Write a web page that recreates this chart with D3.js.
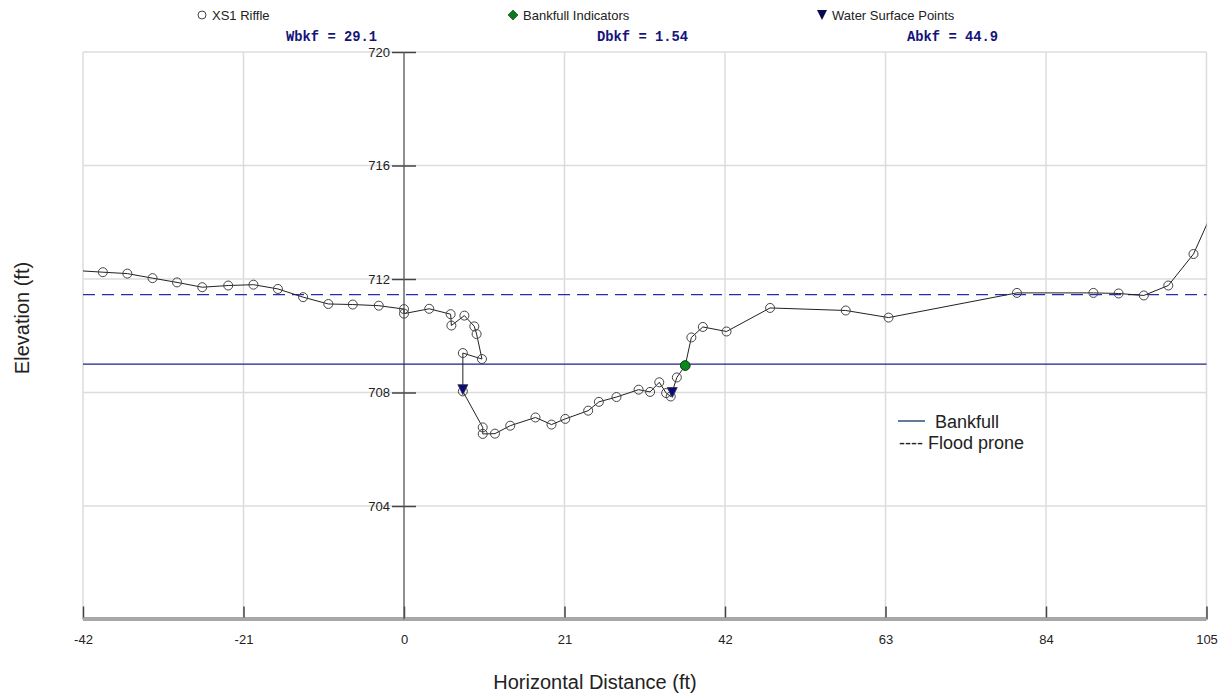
<!DOCTYPE html>
<html>
<head>
<meta charset="utf-8">
<script src="https://cdn.jsdelivr.net/npm/d3@7"></script>
<style>
    body { margin: 0; background: #fff; }
    svg { display: block; }
</style>
</head>
<body>
<svg id="xs"></svg>
<script>
// cross section survey (station ft, elevation ft)
let station = [-43.0, -39.4, -36.2, -32.9, -29.7, -26.4, -23.0, -19.7, -16.5, -13.2, -9.9, -6.7, -3.3,
    0.0, 0.0, 3.3, 6.1, 6.2, 7.9, 9.2, 9.5, 10.2, 7.7, 7.7, 10.3, 10.3, 11.9, 13.9, 17.2, 19.3, 21.1,
    24.1, 25.5, 27.8, 30.7, 32.2, 33.4, 34.3, 34.9, 35.7, 36.8, 37.6, 39.1, 42.2, 47.9, 57.8, 63.4,
    80.2, 90.2, 93.5, 96.8, 100.0, 103.3, 106.5];
let elevation = [712.30, 712.24, 712.19, 712.03, 711.88, 711.71, 711.77, 711.80, 711.65, 711.36, 711.12, 711.10, 711.06,
    710.94, 710.78, 710.95, 710.76, 710.36, 710.71, 710.33, 710.06, 709.18, 709.39, 708.04, 706.77, 706.54, 706.55, 706.83, 707.12, 706.87, 707.07,
    707.36, 707.67, 707.84, 708.10, 708.02, 708.36, 707.98, 707.86, 708.53, 708.95, 709.94, 710.31, 710.15, 710.98, 710.89, 710.64,
    711.51, 711.51, 711.49, 711.42, 711.77, 712.88, 714.8];

let bankfullPts = [[36.8, 708.95]];
let waterPts = [[7.7, 708.10], [35.1, 708.0]];

let bankfullElev = 709.0;
let floodElev = 711.45;

let xTicks = [-42, -21, 0, 21, 42, 63, 84, 105];
let yTicks = [704, 708, 712, 716, 720];

let legendItems = ["XS1 Riffle", "Bankfull Indicators", "Water Surface Points"];
let statLabels = ["Wbkf = 29.1", "Dbkf = 1.54", "Abkf = 44.9"];
let keyLabels = ["Bankfull", "---- Flood prone"];

let svg = d3.select("#xs").attr("width", 1226).attr("height", 700);

let pLeft = 83, pRight = 1206.5, pTop = 52, pBottom = 619.5;

let x = d3.scaleLinear().domain([-42, 105]).range([pLeft, pRight]);
let y = d3.scaleLinear().domain([700, 720]).range([pBottom, pTop]);

let font = "'Liberation Sans', Arial, sans-serif";

svg.append("defs").append("clipPath").attr("id", "plot")
    .append("rect").attr("x", pLeft).attr("y", pTop)
    .attr("width", pRight - pLeft).attr("height", pBottom - pTop);

// grid
let grid = svg.append("g");
grid.selectAll(".vg").data(xTicks).enter().append("line")
    .attr("x1", d => x(d)).attr("x2", d => x(d))
    .attr("y1", pTop).attr("y2", pBottom)
    .attr("stroke", "#dcdcdc").attr("stroke-width", 1.5);
grid.selectAll(".hg").data(yTicks).enter().append("line")
    .attr("x1", pLeft).attr("x2", pRight)
    .attr("y1", d => y(d)).attr("y2", d => y(d))
    .attr("stroke", "#dcdcdc").attr("stroke-width", 1.5);

// x axis at the bottom (plain hyphen for negatives)
let xAxis = svg.append("g")
    .attr("transform", "translate(0," + pBottom + ")")
    .call(d3.axisBottom(x).tickValues(xTicks).tickFormat(d => String(d)).tickSize(0).tickPadding(15));
xAxis.select(".domain").remove();
xAxis.selectAll("text").attr("font-family", font).attr("font-size", 13).attr("fill", "#222");
xAxis.selectAll(".tick").append("line")
    .attr("y1", -13).attr("y2", 0).attr("stroke", "#444").attr("stroke-width", 1.5);
svg.append("line").attr("x1", pLeft).attr("x2", pRight)
    .attr("y1", pBottom - 0.5).attr("y2", pBottom - 0.5)
    .attr("stroke", "#8a8a8a").attr("stroke-width", 3.5);
svg.append("line").attr("x1", pLeft).attr("x2", pRight)
    .attr("y1", pBottom - 0.5).attr("y2", pBottom - 0.5)
    .attr("stroke", "#c8c8c8").attr("stroke-width", 1);

// y axis through zero
let yAxis = svg.append("g")
    .attr("transform", "translate(" + x(0) + ",0)")
    .call(d3.axisLeft(y).tickValues(yTicks).tickFormat(d => String(d)).tickSize(12).tickPadding(2));
yAxis.select(".domain").remove();
yAxis.selectAll(".tick line").attr("x2", 12).attr("x1", -12).attr("stroke", "#444").attr("stroke-width", 1.5);
yAxis.selectAll("text").attr("font-family", font).attr("font-size", 13).attr("fill", "#222");
svg.append("line").attr("x1", x(0)).attr("x2", x(0))
    .attr("y1", pTop).attr("y2", pBottom)
    .attr("stroke", "#555").attr("stroke-width", 1.2);

// bankfull and flood prone lines
svg.append("line").attr("x1", pLeft).attr("x2", pRight)
    .attr("y1", y(bankfullElev)).attr("y2", y(bankfullElev))
    .attr("stroke", "#1f1f8a").attr("stroke-width", 1.3);
svg.append("line").attr("x1", pLeft).attr("x2", pRight)
    .attr("y1", y(floodElev)).attr("y2", y(floodElev))
    .attr("stroke", "#2b2bb0").attr("stroke-width", 1.3)
    .attr("stroke-dasharray", "12,7");

// survey line + markers
let pts = station.map((s, i) => [s, elevation[i]]);
let plot = svg.append("g").attr("clip-path", "url(#plot)");

plot.append("path").datum(pts)
    .attr("d", d3.line().x(d => x(d[0])).y(d => y(d[1])))
    .attr("fill", "none").attr("stroke", "#222").attr("stroke-width", 1);

plot.selectAll(".pt").data(pts).enter().append("circle")
    .attr("cx", d => x(d[0])).attr("cy", d => y(d[1])).attr("r", 4.5)
    .attr("fill", "none").attr("stroke", "#444").attr("stroke-width", 1);

plot.selectAll(".ws").data(waterPts).enter().append("path")
    .attr("transform", d => "translate(" + x(d[0]) + "," + y(d[1]) + ")")
    .attr("d", "M-5,-5L5,-5L0,5Z")
    .attr("fill", "#0a0a80").attr("stroke", "#333").attr("stroke-width", 0.8);

plot.selectAll(".bk").data(bankfullPts).enter().append("circle")
    .attr("cx", d => x(d[0])).attr("cy", d => y(d[1])).attr("r", 4.8)
    .attr("fill", "#0a8a1a").attr("stroke", "#1a3a1a").attr("stroke-width", 1);

// legend on top
let legX = [202, 513, 822];
let leg = svg.append("g");
leg.append("circle").attr("cx", legX[0]).attr("cy", 15).attr("r", 4)
    .attr("fill", "none").attr("stroke", "#444");
leg.append("path").attr("transform", "translate(" + legX[1] + ",15)")
    .attr("d", "M0,-5L5,0L0,5L-5,0Z").attr("fill", "#0a7a1a").attr("stroke", "#143014").attr("stroke-width", 0.6);
leg.append("path").attr("transform", "translate(" + legX[2] + ",15)")
    .attr("d", "M-5,-5L5,-5L0,5Z").attr("fill", "#0a0a50");
leg.selectAll(".lt").data(legendItems).enter().append("text")
    .attr("x", (d, i) => legX[i] + 10).attr("y", 19.5)
    .attr("font-family", font).attr("font-size", 13).attr("fill", "#222")
    .text(d => d);

let statX = [286, 597, 907];
svg.selectAll(".st").data(statLabels).enter().append("text")
    .attr("x", (d, i) => statX[i]).attr("y", 41)
    .attr("font-family", "'Liberation Mono', 'DejaVu Sans Mono', monospace")
    .attr("font-weight", "bold").attr("font-size", 13.8).attr("fill", "#14147a")
    .text(d => d);

// axis titles
svg.append("text").attr("x", 595).attr("y", 689)
    .attr("text-anchor", "middle").attr("font-family", font).attr("font-size", 20).attr("fill", "#222")
    .text("Horizontal Distance (ft)");
svg.append("text").attr("transform", "translate(29,318) rotate(-90)")
    .attr("text-anchor", "middle").attr("font-family", font).attr("font-size", 20).attr("fill", "#222")
    .text("Elevation (ft)");

// bankfull / flood prone key
svg.append("line").attr("x1", 898).attr("x2", 925).attr("y1", 421).attr("y2", 421)
    .attr("stroke", "#2b4f7a").attr("stroke-width", 1.5);
svg.selectAll(".key").data(keyLabels).enter().append("text")
    .attr("x", (d, i) => i === 0 ? 935 : 899)
    .attr("y", (d, i) => 427.5 + i * 21)
    .attr("font-family", font).attr("font-size", 18).attr("fill", "#222")
    .text(d => d);
</script>
</body>
</html>
